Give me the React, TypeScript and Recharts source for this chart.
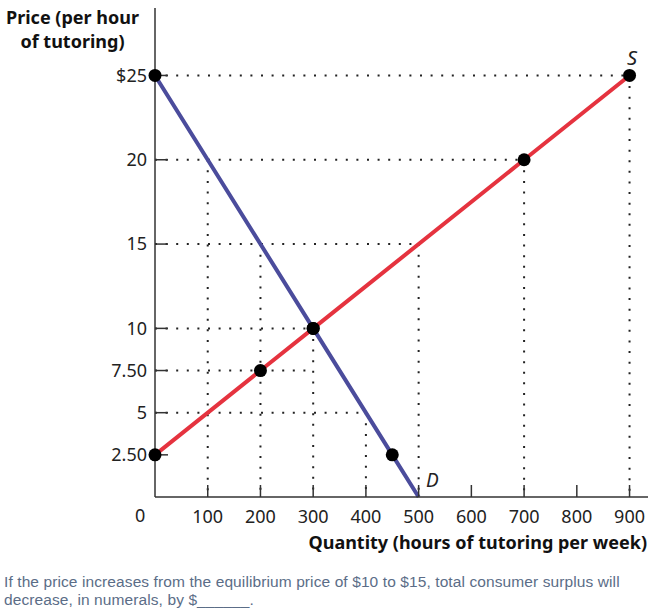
import { ComposedChart, Line, XAxis, YAxis, ReferenceLine } from "recharts";

// supply curve S: every point is drawn as a dot
const supplyQ: number[] = [0, 200, 300, 700, 900];
const supplyP: number[] = [2.5, 7.5, 10, 20, 25];

// demand curve D: the last point only ends the line
const demandQ: number[] = [0, 300, 450, 500];
const demandP: number[] = [25, 10, 2.5, 0];
const demandDots: boolean[] = [true, true, true, false];

const xTicks: number[] = [100, 200, 300, 400, 500, 600, 700, 800, 900];
const yTicks: number[] = [2.5, 5, 7.5, 10, 15, 20, 25];
const yTickLabels: string[] = ["2.50", "5", "7.50", "10", "15", "20", "$25"];

// dotted guide lines
const hGuideP: number[] = [25, 20, 15, 10, 7.5, 5];
const hGuideQ: number[] = [900, 700, 500, 300, 300, 400];
const vGuideQ: number[] = [100, 200, 300, 400, 500, 700, 900];
const vGuideP: number[] = [20, 15, 10, 5, 15, 20, 25];

const FONT = "'Noto Sans', sans-serif";
const SUPPLY = "#e5333f";
const DEMAND = "#4b4c9c";

const supplyData = supplyQ.map((q, i) => ({ q, p: supplyP[i], dot: true }));
const demandData = demandQ.map((q, i) => ({ q, p: demandP[i], dot: demandDots[i] }));

const renderDot = (props: any) => {
  const { cx, cy, payload, index } = props;
  if (!payload.dot) return <g key={`d-${index}`} />;
  return <circle key={`d-${index}`} cx={cx} cy={cy} r={6.5} fill="#000" />;
};

const dotted = { stroke: "#222", strokeWidth: 2, strokeDasharray: "2 8.6" };

const note = {
  position: "absolute" as const,
  left: 4,
  fontSize: 15.5,
  letterSpacing: 0.1,
  lineHeight: "16px",
  color: "#5b6d87",
  fontFamily: "'Liberation Sans', sans-serif",
  whiteSpace: "nowrap" as const,
};

const App = () => {
  return (
    <div style={{ position: "absolute", left: 0, top: 0, width: 650, height: 612, background: "#fff", fontFamily: FONT }}>
      <ComposedChart width={650} height={560} margin={{ top: 8, right: 2, bottom: 0, left: 0 }}>
        <XAxis
          type="number"
          dataKey="q"
          domain={[0, 935]}
          ticks={xTicks}
          tickSize={-12}
          tickMargin={25}
          stroke="#333"
          strokeWidth={1.5}
          height={63}
          tick={{ fill: "#222", fontSize: 18, fontFamily: FONT }}
        />
        <YAxis
          type="number"
          dataKey="p"
          domain={[0, 29]}
          ticks={yTicks}
          tickFormatter={(v: number) => yTickLabels[yTicks.indexOf(v)]}
          tickSize={-13}
          tickMargin={21}
          stroke="#333"
          strokeWidth={1.5}
          width={155}
          tick={{ fill: "#222", fontSize: 18, fontFamily: FONT }}
        />
        {hGuideP.map((p, i) => (
          <ReferenceLine key={`h-${i}`} segment={[{ x: 0, y: p }, { x: hGuideQ[i], y: p }]} {...dotted} />
        ))}
        {vGuideQ.map((q, i) => (
          <ReferenceLine key={`v-${i}`} segment={[{ x: q, y: vGuideP[i] }, { x: q, y: 0 }]} {...dotted} />
        ))}
        <Line
          data={demandData}
          dataKey="p"
          stroke={DEMAND}
          strokeWidth={4}
          dot={renderDot}
          activeDot={false}
          isAnimationActive={false}
        />
        <Line
          data={supplyData}
          dataKey="p"
          stroke={SUPPLY}
          strokeWidth={4}
          dot={renderDot}
          activeDot={false}
          isAnimationActive={false}
        />
      </ComposedChart>

      <div style={{ position: "absolute", left: 0, top: 5, width: 145, textAlign: "center", fontWeight: 700, fontSize: 18, lineHeight: "24px", color: "#111" }}>
        Price (per hour
        <br />
        of tutoring)
      </div>
      <div style={{ position: "absolute", right: 3, top: 530, fontWeight: 700, fontSize: 18, color: "#111", whiteSpace: "nowrap" }}>
        Quantity (hours of tutoring per week)
      </div>
      <div style={{ position: "absolute", left: 135, top: 503, fontSize: 18, color: "#222" }}>0</div>
      <div style={{ position: "absolute", left: 627, top: 44, fontSize: 20, fontStyle: "italic", color: "#222" }}>S</div>
      <div style={{ position: "absolute", left: 426, top: 467, fontSize: 19, fontStyle: "italic", color: "#222" }}>D</div>
      <div style={{ ...note, top: 574 }}>
        If the price increases from the equilibrium price of $10 to $15, total consumer surplus will
      </div>
      <div style={{ ...note, top: 592 }}>decrease, in numerals, by $______.</div>
    </div>
  );
};

export default App;
